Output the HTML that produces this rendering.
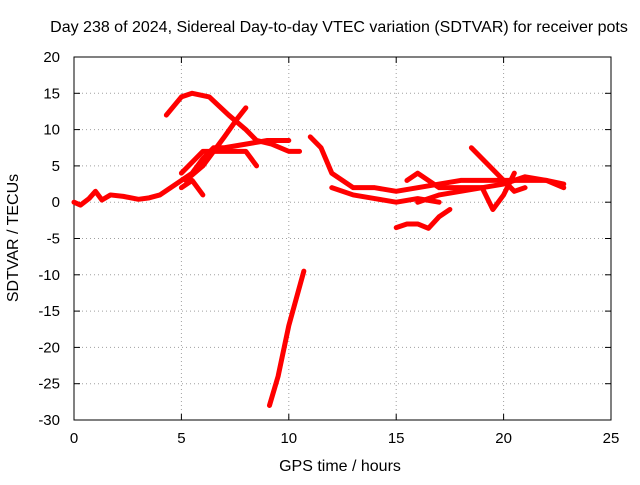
<!DOCTYPE html>
<html><head><meta charset="utf-8"><style>
body{margin:0;background:#fff;font-family:"Liberation Sans",sans-serif;}
svg text{font-family:"Liberation Sans",sans-serif;font-size:15px;fill:#000}
svg text.big{font-size:16px}
</style></head><body>
<svg id="chart" width="640" height="480">
<text class="big" x="339" y="32" text-anchor="middle">Day 238 of 2024, Sidereal Day-to-day VTEC variation (SDTVAR) for receiver pots</text>
<g id="grid"></g>
<g id="axes"></g>
<g id="series"></g>
<text class="big" x="340" y="471" text-anchor="middle">GPS time / hours</text>
<text class="big" transform="translate(18,238) rotate(-90)" text-anchor="middle">SDTVAR / TECUs</text>
</svg>
<script>
const xTicks=[0,5,10,15,20,25];
const yTicks=[20,15,10,5,0,-5,-10,-15,-20,-25,-30];
const trace1=[[0,0],[0.3,-0.4],[0.7,0.5],[1,1.5],[1.3,0.3],[1.7,1],[2.3,0.8],[3,0.4],[3.5,0.6],[4,1],[4.5,2],[5,3],[5.5,4],[6,6],[6.5,7.5],[7,7.5],[8,8],[9,8.5],[10,8.5]];
const trace2=[[4.3,12],[5,14.5],[5.5,15],[6.3,14.5],[7.2,12],[8,10],[8.5,8.5],[9.2,8],[10,7],[10.5,7]];
const trace3=[[5.2,3],[6,5],[7,9],[7.6,11.5],[8,13]];
const trace4=[[9.1,-28],[9.5,-24],[10,-17],[10.7,-9.5]];
const trace5=[[11,9],[11.5,7.5],[12,4],[12.5,3],[13,2],[14,2],[15,1.5],[16,2],[17,2.5],[18,3],[19,3],[20,3],[21,3],[22,3],[22.8,2]];
const trace6=[[15,-3.5],[15.5,-3],[16,-3],[16.5,-3.6],[17,-2],[17.5,-1]];
const trace7=[[15.5,3],[16,4],[16.5,3],[17,2],[18,2],[19,2],[20,2.5],[21,3.5],[22,3],[22.8,2.5]];
const trace8=[[18.5,7.5],[19,6],[19.5,4.5],[20,3],[20.5,1.5],[21,2]];
const trace9=[[16,0],[17,1],[18,1.5],[19,2],[19.5,-1],[20,1],[20.5,4]];
const trace10=[[5,4],[6,7],[7,7],[8,7],[8.5,5]];
const trace11=[[12,2],[13,1],[14,0.5],[15,0],[16,0.5],[17,0]];
const trace12=[[5,2],[5.5,3],[6,1]];
const traces=[trace1,trace2,trace3,trace4,trace5,trace6,trace7,trace8,trace9,trace10,trace11,trace12];
const X0=74,X1=611,Y0=420,Y1=57;
const sx=v=>X0+(v-0)/(25-0)*(X1-X0);
const sy=v=>Y0-(v+30)/(20+30)*(Y0-Y1);
const NS="http://www.w3.org/2000/svg";
const grid=document.getElementById('grid'),axes=document.getElementById('axes'),series=document.getElementById('series');
function mk(t,a,p){const e=document.createElementNS(NS,t);for(const k in a)e.setAttribute(k,a[k]);p.appendChild(e);return e;}
xTicks.forEach(t=>{
 const x=sx(t);
 if(t>0&&t<25){const l=mk('line',{x1:x,x2:x,y1:Y1,y2:Y0,stroke:'#a0a0a0','stroke-dasharray':'1,3'},grid);
 
 }
 const tx=mk('text',{x:x,y:Y0+23,'text-anchor':'middle'},axes);tx.textContent=t;
 
 
 mk('line',{x1:x,x2:x,y1:Y0,y2:Y0-6,stroke:'#000'},axes);
 mk('line',{x1:x,x2:x,y1:Y1,y2:Y1+6,stroke:'#000'},axes);
});
yTicks.forEach(t=>{
 const y=sy(t);
 if(t>-30&&t<20){const l=mk('line',{x1:X0,x2:X1,y1:y,y2:y,stroke:'#a0a0a0','stroke-dasharray':'1,3'},grid);
 
 }
 const tx=mk('text',{x:X0-14,y:y+5,'text-anchor':'end'},axes);tx.textContent=t;
 
 
 mk('line',{x1:X0,x2:X0+6,y1:y,y2:y,stroke:'#000'},axes);
 mk('line',{x1:X1,x2:X1-6,y1:y,y2:y,stroke:'#000'},axes);
});
const fr=mk('rect',{x:X0,y:Y1,width:X1-X0,height:Y0-Y1,fill:'none',stroke:'#000'},axes);


traces.forEach(tr=>{
 const p=mk('polyline',{points:tr.map(d=>sx(d[0])+','+sy(d[1])).join(' '),fill:'none',stroke:'#ff0000','stroke-width':5,'stroke-linejoin':'round','stroke-linecap':'round'},series);
 
 
});
</script>
</body></html>
